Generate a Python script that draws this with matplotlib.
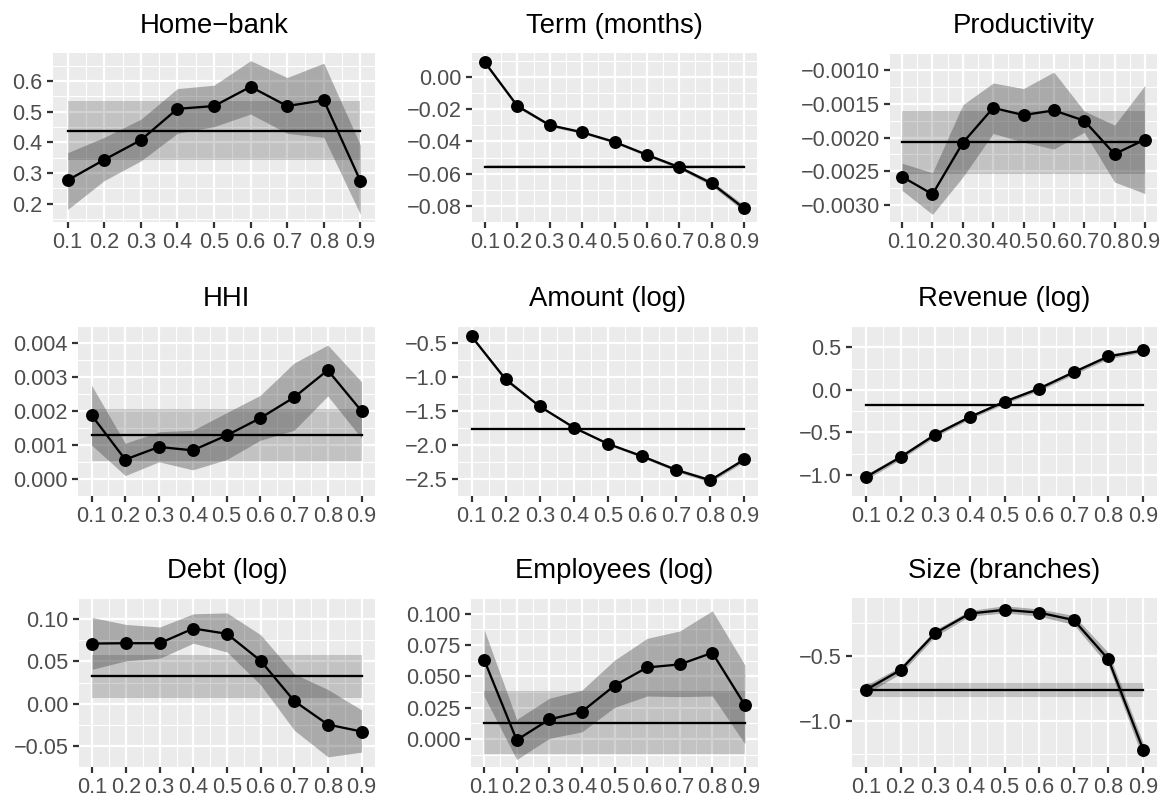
import numpy as np
import matplotlib.pyplot as plt

plt.rcParams['font.family'] = ['Liberation Sans', 'DejaVu Sans']

quantiles = [0.1, 0.2, 0.3, 0.4, 0.5, 0.6, 0.7, 0.8, 0.9]
xlabels = ['0.1', '0.2', '0.3', '0.4', '0.5', '0.6', '0.7', '0.8', '0.9']

# quantile regression coefficients, CI, and OLS estimate (+ CI) per variable
homebank_coef = [0.276, 0.343, 0.407, 0.509, 0.518, 0.581, 0.518, 0.537, 0.274]
homebank_lo = [0.181, 0.275, 0.339, 0.429, 0.451, 0.492, 0.429, 0.416, 0.165]
homebank_hi = [0.366, 0.416, 0.475, 0.575, 0.586, 0.666, 0.611, 0.658, 0.391]
homebank_ols = [0.438, 0.343, 0.534]
homebank_ticks = [0.2, 0.3, 0.4, 0.5, 0.6]
homebank_tlabels = ['0.2', '0.3', '0.4', '0.5', '0.6']

term_coef = [0.0090, -0.0180, -0.0299, -0.0343, -0.0403, -0.0483, -0.0560, -0.0660, -0.0815]
term_lo = [0.0078, -0.0190, -0.0308, -0.0351, -0.0411, -0.0492, -0.0570, -0.0675, -0.0835]
term_hi = [0.0102, -0.0170, -0.0290, -0.0335, -0.0395, -0.0474, -0.0550, -0.0645, -0.0795]
term_ols = [-0.0556, -0.0564, -0.0548]
term_ticks = [-0.08, -0.06, -0.04, -0.02, 0.0]
term_tlabels = ['\u22120.08', '\u22120.06', '\u22120.04', '\u22120.02', '0.00']

prod_coef = [-0.002581, -0.002839, -0.002078, -0.001562, -0.001668, -0.001599, -0.001751, -0.002244, -0.002032]
prod_lo = [-0.002783, -0.003138, -0.002585, -0.001940, -0.002069, -0.002171, -0.001922, -0.002659, -0.002829]
prod_hi = [-0.002382, -0.002521, -0.001516, -0.001194, -0.001276, -0.001032, -0.001608, -0.001816, -0.001230]
prod_ols = [-0.002069, -0.002539, -0.001608]
prod_ticks = [-0.0030, -0.0025, -0.0020, -0.0015, -0.0010]
prod_tlabels = ['\u22120.0030', '\u22120.0025', '\u22120.0020', '\u22120.0015', '\u22120.0010']

hhi_coef = [0.00188, 0.000573, 0.000943, 0.000842, 0.00128, 0.00179, 0.00240, 0.00320, 0.00200]
hhi_lo = [0.00100, 0.00010, 0.000505, 0.00027, 0.00057, 0.00114, 0.00143, 0.00244, 0.00120]
hhi_hi = [0.00276, 0.00105, 0.00139, 0.00143, 0.00195, 0.00246, 0.00341, 0.00394, 0.00286]
hhi_ols = [0.00129, 0.00052, 0.00206]
hhi_ticks = [0.0, 0.001, 0.002, 0.003, 0.004]
hhi_tlabels = ['0.000', '0.001', '0.002', '0.003', '0.004']

amount_coef = [-0.404, -1.036, -1.433, -1.744, -1.983, -2.165, -2.366, -2.519, -2.213]
amount_lo = [-0.43, -1.06, -1.45, -1.76, -2.00, -2.185, -2.39, -2.55, -2.245]
amount_hi = [-0.38, -1.01, -1.415, -1.728, -1.966, -2.145, -2.342, -2.49, -2.18]
amount_ols = [-1.768, -1.778, -1.758]
amount_ticks = [-2.5, -2.0, -1.5, -1.0, -0.5]
amount_tlabels = ['\u22122.5', '\u22122.0', '\u22121.5', '\u22121.0', '\u22120.5']

revenue_coef = [-1.028, -0.793, -0.528, -0.321, -0.141, 0.014, 0.207, 0.393, 0.462]
revenue_lo = [-1.06, -0.82, -0.555, -0.345, -0.165, -0.01, 0.18, 0.365, 0.44]
revenue_hi = [-0.995, -0.765, -0.50, -0.297, -0.117, 0.038, 0.232, 0.418, 0.485]
revenue_ols = [-0.176, -0.19, -0.162]
revenue_ticks = [-1.0, -0.5, 0.0, 0.5]
revenue_tlabels = ['\u22121.0', '\u22120.5', '0.0', '0.5']

debt_coef = [0.0711, 0.0715, 0.0715, 0.0889, 0.0826, 0.0507, 0.0030, -0.0248, -0.0330]
debt_lo = [0.0407, 0.0507, 0.0537, 0.0715, 0.0611, 0.0222, -0.0315, -0.0630, -0.0574]
debt_hi = [0.1019, 0.0937, 0.0907, 0.1063, 0.1074, 0.0815, 0.0352, 0.0167, -0.0074]
debt_ols = [0.0322, 0.0067, 0.0581]
debt_ticks = [-0.05, 0.0, 0.05, 0.10]
debt_tlabels = ['\u22120.05', '0.00', '0.05', '0.10']

empl_coef = [0.0634, -0.0008, 0.0156, 0.0218, 0.0426, 0.0571, 0.0595, 0.0688, 0.0270]
empl_lo = [0.0343, -0.0164, 0.0005, 0.0057, 0.0252, 0.0343, 0.0338, 0.0343, -0.0039]
empl_hi = [0.0875, 0.0156, 0.0325, 0.0390, 0.0629, 0.0803, 0.0862, 0.1023, 0.0590]
empl_ols = [0.0130, -0.0119, 0.0382]
empl_ticks = [0.0, 0.025, 0.05, 0.075, 0.10]
empl_tlabels = ['0.000', '0.025', '0.050', '0.075', '0.100']

size_coef = [-0.759, -0.607, -0.325, -0.175, -0.147, -0.168, -0.225, -0.526, -1.215]
size_lo = [-0.79, -0.635, -0.35, -0.195, -0.17, -0.195, -0.26, -0.575, -1.29]
size_hi = [-0.725, -0.58, -0.30, -0.152, -0.115, -0.14, -0.19, -0.475, -1.16]
size_ols = [-0.762, -0.817, -0.704]
size_ticks = [-1.0, -0.5]
size_tlabels = ['\u22121.0', '\u22120.5']

panels = [
    ("Home\u2212bank", homebank_coef, homebank_lo, homebank_hi, homebank_ols, homebank_ticks, homebank_tlabels),
    ("Term (months)", term_coef, term_lo, term_hi, term_ols, term_ticks, term_tlabels),
    ("Productivity", prod_coef, prod_lo, prod_hi, prod_ols, prod_ticks, prod_tlabels),
    ("HHI", hhi_coef, hhi_lo, hhi_hi, hhi_ols, hhi_ticks, hhi_tlabels),
    ("Amount (log)", amount_coef, amount_lo, amount_hi, amount_ols, amount_ticks, amount_tlabels),
    ("Revenue (log)", revenue_coef, revenue_lo, revenue_hi, revenue_ols, revenue_ticks, revenue_tlabels),
    ("Debt (log)", debt_coef, debt_lo, debt_hi, debt_ols, debt_ticks, debt_tlabels),
    ("Employees (log)", empl_coef, empl_lo, empl_hi, empl_ols, empl_ticks, empl_tlabels),
    ("Size (branches)", size_coef, size_lo, size_hi, size_ols, size_ticks, size_tlabels),
]

# panel boxes in pixels: x0, x1, y0 (top), y1 (bottom)
boxes = [
    (53, 375, 53, 222), (472, 757, 53, 222), (890, 1157, 53, 222),
    (78, 375, 326, 496), (458, 758, 326, 496), (852, 1157, 326, 496),
    (79, 375, 598, 767), (471, 758, 598, 767), (852, 1157, 598, 767),
]

W, H = 1162, 797
fig = plt.figure(figsize=(W / 150, H / 150), dpi=150)

for (title, coef, lo, hi, ols, ticks, tlabels), (x0, x1, y0, y1) in zip(panels, boxes):
    ax = fig.add_axes([x0 / W, 1 - y1 / H, (x1 - x0) / W, (y1 - y0) / H])
    ax.set_facecolor('#EBEBEB')
    for s in ax.spines.values():
        s.set_visible(False)

    # OLS band + line
    ax.fill_between([quantiles[0], quantiles[-1]], ols[1], ols[2], color='#333333', alpha=0.22, lw=0)
    ax.plot([quantiles[0], quantiles[-1]], [ols[0], ols[0]], color='black', lw=1.1)
    # quantile ribbon, line, points
    ax.fill_between(quantiles, lo, hi, color='#333333', alpha=0.35, lw=0)
    ax.plot(quantiles, coef, color='black', lw=1.1)
    ax.plot(quantiles, coef, 'o', color='black', ms=5.2)

    allv = np.concatenate([coef, lo, hi, ols])
    r = allv.max() - allv.min()
    ax.set_ylim(allv.min() - 0.05 * r, allv.max() + 0.05 * r)
    ax.set_xlim(0.06, 0.94)

    ax.set_xticks(quantiles)
    ax.set_xticklabels(xlabels)
    ax.set_xticks([0.15, 0.25, 0.35, 0.45, 0.55, 0.65, 0.75, 0.85], minor=True)
    step = ticks[1] - ticks[0]
    ax.set_yticks(ticks)
    ax.set_yticklabels(tlabels)
    minor_y = [ticks[0] - step / 2] + [t + step / 2 for t in ticks]
    ax.set_yticks(minor_y, minor=True)

    ax.grid(which='major', color='white', lw=1.07)
    ax.grid(which='minor', color='white', lw=0.53)
    ax.set_axisbelow(True)
    ax.tick_params(which='major', length=2.75, width=1.07, color='#333333',
                   labelsize=10.4, labelcolor='#4D4D4D', pad=2.2)
    ax.tick_params(which='minor', length=0)
    ax.set_title(title, fontsize=13.2, color='black', pad=9.5)

fig.savefig('out.png', dpi=150)
